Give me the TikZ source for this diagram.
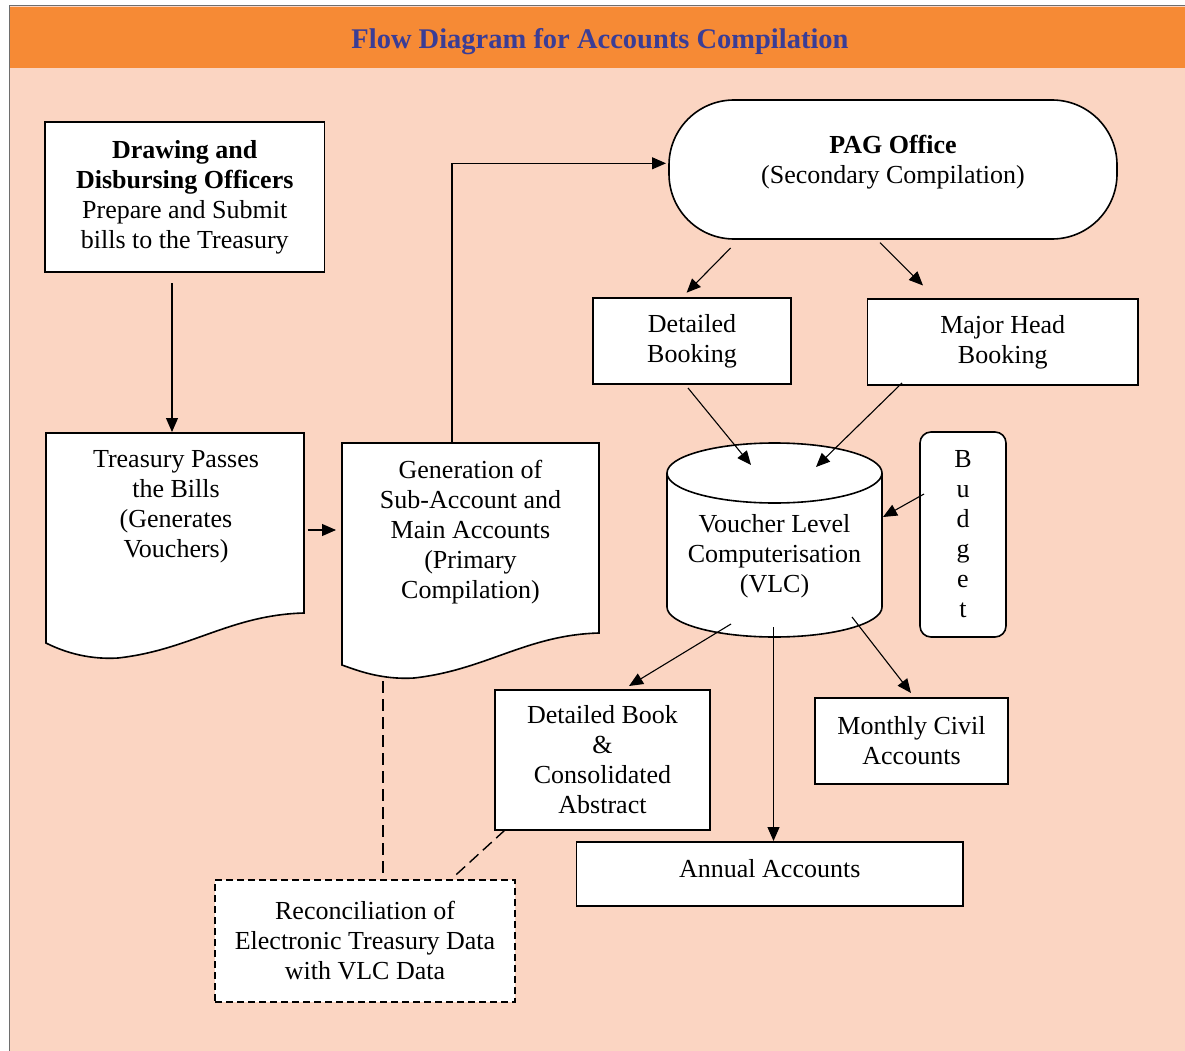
\documentclass[tikz,border=0pt]{standalone}
\usepackage{fontspec}
\setmainfont{Liberation Serif}
\usetikzlibrary{arrows.meta}
\definecolor{peach}{RGB}{251,213,194}
\definecolor{hdr}{RGB}{246,138,53}
\definecolor{ttl}{RGB}{58,61,150}
\definecolor{frameg}{RGB}{110,110,110}
\begin{document}
\begin{tikzpicture}[x=1pt,y=-1pt,
  txt/.style={font=\fontsize{26}{30}\selectfont, align=center, inner sep=0pt},
  box/.style={draw, fill=white, line width=1.6pt, inner sep=0pt, txt},
  arr/.style={-{Triangle[length=14pt,width=12pt]}, line width=1.1pt},
  dashline/.style={dash pattern=on 12pt off 6pt, line width=1.4pt},
  dashbox/.style={box, dash pattern=on 7pt off 4pt, line width=2pt},
  shapeline/.style={draw, fill=white, line width=1.6pt}
]
\useasboundingbox (0,0) rectangle (1185,1051);
\fill[white] (0,0) rectangle (1185,1051);
\fill[peach] (9,6) rectangle (1185,1051);
\fill[hdr] (9,7) rectangle (1185,68.5);
\draw[frameg, line width=1pt] (9,1051) -- (9,6) -- (1185,6);
\node[font=\fontsize{28.5}{30}\selectfont\bfseries, text=ttl, inner sep=0pt] (title) at (600,41.5) {Flow Diagram for Accounts Compilation};

% Drawing and Disbursing Officers
\node[box, minimum width=279.5pt, minimum height=149.7pt] (ddo) at (184.75,196.85)
  {\textbf{Drawing and}\\\textbf{Disbursing Officers}\\Prepare and Submit\\bills to the Treasury};

% Treasury document shape
\path[shapeline] (46,433) -- (304,433) -- (304,613)
  .. controls (230,615) and (190,650) .. (118,658)
  .. controls (85,660) and (60,650) .. (46,643) -- cycle;
\node[txt] (treasury) at (176,507) {Treasury Passes\\the Bills\\(Generates\\Vouchers)};

% Generation document shape
\path[shapeline] (342,443) -- (599,443) -- (599,633)
  .. controls (526,635) and (486,670) .. (414,678)
  .. controls (381,680) and (356,670) .. (342,665) -- cycle;
\node[txt] (gen) at (470.5,532) {Generation of\\Sub-Account and\\Main Accounts\\(Primary\\Compilation)};

% PAG Office
\node[draw, fill=white, line width=1.6pt, rounded corners=65pt, minimum width=448pt, minimum height=139pt, inner sep=0pt] (pag) at (893,169.5) {};
\node[txt] (pagtxt) at (893,162) {\textbf{PAG Office}\\(Secondary Compilation)};

% Booking boxes
\node[box, minimum width=198pt, minimum height=86pt] (db) at (692,341) {Detailed\\Booking};
\node[box, minimum width=270.5pt, minimum height=86pt] (mhb) at (1002.75,342) {Major Head\\Booking};

% VLC cylinder
\path[shapeline] (667,473) -- (667,607)
  arc[start angle=180, end angle=360, x radius=107.5pt, y radius=30pt]
  -- (882,473)
  arc[start angle=0, end angle=180, x radius=107.5pt, y radius=30pt] -- cycle;
\draw[line width=1.6pt] (667,473) arc[start angle=180, end angle=360, x radius=107.5pt, y radius=30pt];
\node[txt] (vlc) at (774.5,556) {Voucher Level\\Computerisation\\(VLC)};

% Budget
\node[box, rounded corners=11pt, minimum width=86pt, minimum height=205pt] (budget) at (963,534.5) {B\\u\\d\\g\\e\\t};

% Output boxes
\node[box, minimum width=215pt, minimum height=140pt] (dbook) at (602.5,760) {Detailed Book\\\&\\Consolidated\\Abstract};
\node[box, minimum width=193pt, minimum height=86pt] (mca) at (911.5,741) {Monthly Civil\\Accounts};
\node[box, minimum width=386.5pt, minimum height=64pt, text depth=12pt] (annual) at (769.75,874) {Annual Accounts};
\node[dashbox, minimum width=300pt, minimum height=122pt] (recon) at (365,941) {Reconciliation of\\Electronic Treasury Data\\with VLC Data};

% connector end points
\coordinate (a1s) at (172,283);   \coordinate (a1e) at (172,432);
\coordinate (a2s) at (307.5,530); \coordinate (a2e) at (336,530);
\coordinate (a3s) at (452,443);   \coordinate (a3m) at (452,163.3); \coordinate (a3e) at (666,163.3);
\coordinate (a4s) at (730.6,248); \coordinate (a4e) at (686.6,292.7);
\coordinate (a5s) at (880,242.7); \coordinate (a5e) at (923,285.5);
\coordinate (a6s) at (688,388);   \coordinate (a6e) at (751,465);
\coordinate (a7s) at (902,383);   \coordinate (a7e) at (816,467);
\coordinate (a8s) at (924,494);   \coordinate (a8e) at (883,517);
\coordinate (a9s) at (731,624);   \coordinate (a9e) at (629,686);
\coordinate (a10s) at (773.5,627); \coordinate (a10e) at (773.5,841);
\coordinate (a11s) at (852,617);  \coordinate (a11e) at (911,693);
\coordinate (d1s) at (383,681);   \coordinate (d1e) at (383,878);
\coordinate (d2s) at (505,830);   \coordinate (d2e) at (452.5,878);

\draw[arr] (a1s) -- (a1e);
\draw[arr] (a2s) -- (a2e);
\draw[arr] (a3s) -- (a3m) -- (a3e);
\draw[arr] (a4s) -- (a4e);
\draw[arr] (a5s) -- (a5e);
\draw[arr] (a6s) -- (a6e);
\draw[arr] (a7s) -- (a7e);
\draw[arr] (a8s) -- (a8e);
\draw[arr] (a9s) -- (a9e);
\draw[arr] (a10s) -- (a10e);
\draw[arr] (a11s) -- (a11e);
\draw[dashline] (d1s) -- (d1e);
\draw[dashline] (d2s) -- (d2e);
\end{tikzpicture}
\end{document}
